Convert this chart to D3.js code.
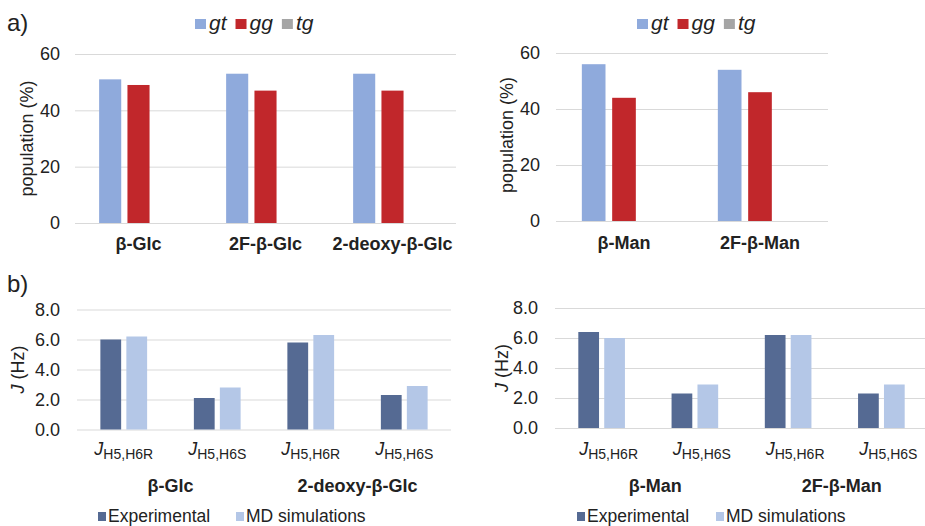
<!DOCTYPE html>
<html>
<head>
<meta charset="utf-8">
<script src="https://d3js.org/d3.v7.min.js"></script>
<style>
body { margin: 0; background: #fff; }
text { font-family: "Liberation Sans", Arial, sans-serif; fill: #222; }
</style>
</head>
<body>
<div id="chart"></div>
<script>
// populations (%) - panel a
var confSeries = ["gt", "gg", "tg"];
var glcNames = ["β-Glc", "2F-β-Glc", "2-deoxy-β-Glc"];
var glcGt = [51, 53, 53];
var glcGg = [49, 47, 47];
var glcTg = [0, 0, 0];
var manNames = ["β-Man", "2F-β-Man"];
var manGt = [56, 54];
var manGg = [44, 46];
var manTg = [0, 0];
var popTicks = [0, 20, 40, 60];

// coupling constants (Hz) - panel b
var jSeries = ["Experimental", "MD simulations"];
var jSub = ["H5,H6R", "H5,H6S"];
var glcGroups = ["β-Glc", "2-deoxy-β-Glc"];
var glcExp = [6.0, 2.1, 5.8, 2.3];
var glcMD = [6.2, 2.8, 6.3, 2.9];
var manGroups = ["β-Man", "2F-β-Man"];
var manExp = [6.4, 2.3, 6.2, 2.3];
var manMD = [6.0, 2.9, 6.2, 2.9];
var jTicks = [0, 2, 4, 6, 8];

var confColors = ["#8FAADC", "#C1272B", "#A5A5A5"];
var jColors = ["#556A93", "#B4C7E7"];

var svg = d3.select("#chart").append("svg").attr("width", 925).attr("height", 526);

function drawPanel(p) {
  var g = svg.append("g");
  var x = d3.scaleBand().domain(d3.range(p.values[0].length)).range([p.x0, p.x1]);
  var y = d3.scaleLinear().domain([0, p.ymax]).range([p.y0, p.y1]);
  var bw = x.bandwidth();
  var x1 = d3.scaleBand().domain(d3.range(p.series.length))
    .range([bw * p.grp[0], bw * p.grp[1]]).paddingInner(p.pad);

  // gridlines
  g.selectAll(".grid").data(p.ticks).enter().append("line")
    .attr("x1", p.x0).attr("x2", p.x1)
    .attr("y1", function(d) { return y(d) + 0.5; })
    .attr("y2", function(d) { return y(d) + 0.5; })
    .attr("stroke", "#D9D9D9").attr("stroke-width", 1);

  var yAxis = d3.axisLeft(y).tickValues(p.ticks).tickSize(0).tickPadding(p.x0 - p.tickRight)
    .tickFormat(p.fmt);
  var ax = g.append("g").attr("transform", "translate(" + p.x0 + ",0)").call(yAxis);
  ax.select(".domain").remove();
  ax.selectAll("text").style("font-size", "18px").style("font-family", "Liberation Sans, Arial, sans-serif").attr("fill", "#222");

  // bars
  p.values.forEach(function(vals, si) {
    g.selectAll(".bar" + si).data(vals).enter().append("rect")
      .attr("x", function(d, i) { return x(i) + x1(si); })
      .attr("width", x1.bandwidth())
      .attr("y", function(d) { return y(d); })
      .attr("height", function(d) { return y(0) - y(d); })
      .attr("fill", p.colors[si]);
  });

  // y title
  var yt = g.append("text")
    .attr("transform", "translate(" + p.titleX + "," + ((p.y0 + p.y1) / 2 + p.titleDy) + ") rotate(-90)")
    .attr("text-anchor", "middle").style("font-size", "18px");
  if (p.titleJ) {
    yt.append("tspan").style("font-style", "italic").text("J");
    yt.append("tspan").text(" (Hz)");
  } else {
    yt.text(p.title);
  }
  return { x: x, g: g };
}

function confLegend(x0, y0) {
  var x = x0;
  confSeries.forEach(function(s, i) {
    svg.append("rect").attr("x", x).attr("y", y0 - 11).attr("width", 11).attr("height", 10)
      .attr("fill", confColors[i]);
    var t = svg.append("text").attr("x", x + 14).attr("y", y0)
      .style("font-size", "21px").style("font-style", "italic").text(s);
    x += 14 + t.node().getComputedTextLength() + 9;
  });
}

function jLegend(xs, y0) {
  jSeries.forEach(function(s, i) {
    svg.append("rect").attr("x", xs[i]).attr("y", y0 - 10).attr("width", 8).attr("height", 9)
      .attr("fill", jColors[i]);
    svg.append("text").attr("x", xs[i] + 10).attr("y", y0)
      .style("font-size", "17.5px").text(s);
  });
}

// ---- panel a, left
var pa1 = drawPanel({
  values: [glcGt, glcGg, glcTg], series: confSeries, colors: confColors,
  x0: 75, x1: 456, y0: 223, y1: 54, ymax: 60, ticks: popTicks, fmt: d3.format("d"),
  grp: [0.19, 0.81], pad: 0.22, tickRight: 60, titleX: 33, titleDy: 0, title: "population (%)"
});
pa1.g.selectAll(".cat").data(glcNames).enter().append("text")
  .attr("x", function(d, i) { return pa1.x(i) + pa1.x.bandwidth() / 2; })
  .attr("y", 250).attr("text-anchor", "middle")
  .style("font-size", "18px").style("font-weight", "bold").text(function(d) { return d; });

// ---- panel a, right
var pa2 = drawPanel({
  values: [manGt, manGg, manTg], series: confSeries, colors: confColors,
  x0: 556, x1: 828, y0: 221, y1: 53, ymax: 60, ticks: popTicks, fmt: d3.format("d"),
  grp: [0.19, 0.81], pad: 0.22, tickRight: 540, titleX: 513, titleDy: -2, title: "population (%)"
});
pa2.g.selectAll(".cat").data(manNames).enter().append("text")
  .attr("x", function(d, i) { return pa2.x(i) + pa2.x.bandwidth() / 2; })
  .attr("y", 249).attr("text-anchor", "middle")
  .style("font-size", "18px").style("font-weight", "bold").text(function(d) { return d; });

confLegend(195, 30);
confLegend(637, 30);

// ---- panel b
function jLabels(pb, groups, shift) {
  var bw = pb.x.bandwidth();
  d3.range(groups.length * jSub.length).forEach(function(i) {
    var t = pb.g.append("text")
      .attr("x", pb.x(i) + bw / 2 + shift).attr("y", 455).attr("text-anchor", "middle");
    t.append("tspan").style("font-style", "italic").style("font-size", "18px").text("J");
    t.append("tspan").attr("dy", 4).style("font-size", "14px").text(jSub[i % jSub.length]);
  });
  groups.forEach(function(gname, gi) {
    pb.g.append("text")
      .attr("x", pb.x(gi * 2) + bw + shift).attr("y", 492).attr("text-anchor", "middle")
      .style("font-size", "18px").style("font-weight", "bold").text(gname);
  });
}

var pb1 = drawPanel({
  values: [glcExp, glcMD], series: jSeries, colors: jColors,
  x0: 77, x1: 451, y0: 429.5, y1: 309.5, ymax: 8, ticks: jTicks, fmt: d3.format(".1f"),
  grp: [0.25, 0.75], pad: 0.2, tickRight: 60, titleX: 24, titleDy: 0, titleJ: true
});
jLabels(pb1, glcGroups, 0);

var pb2 = drawPanel({
  values: [manExp, manMD], series: jSeries, colors: jColors,
  x0: 555, x1: 928, y0: 428, y1: 308, ymax: 8, ticks: jTicks, fmt: d3.format(".1f"),
  grp: [0.25, 0.75], pad: 0.2, tickRight: 538, titleX: 508, titleDy: 0, titleJ: true
});
jLabels(pb2, manGroups, 7);

jLegend([98, 236], 522);
jLegend([577, 716], 522);

// panel letters
svg.append("text").attr("x", 7).attr("y", 31).style("font-size", "24px").text("a)");
svg.append("text").attr("x", 7).attr("y", 292).style("font-size", "24px").text("b)");
</script>
</body>
</html>
